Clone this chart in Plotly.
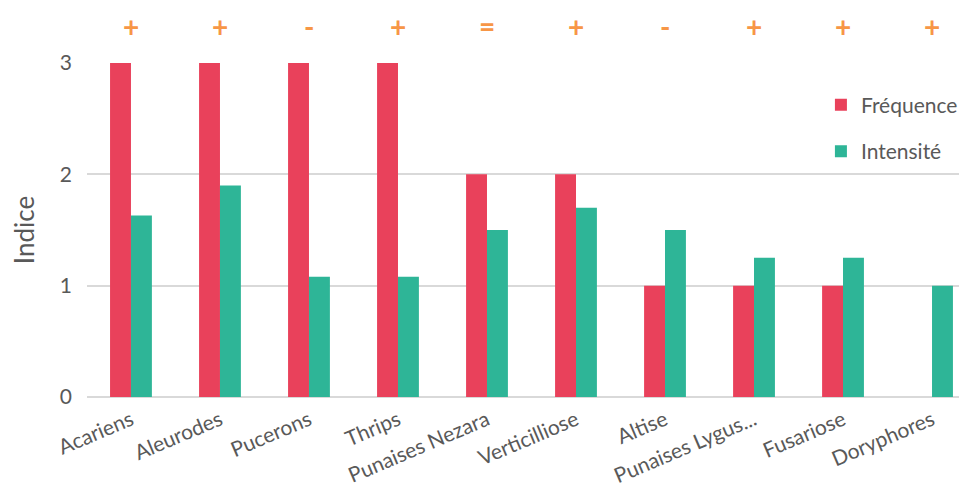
import plotly.graph_objects as go

categories = ["Acariens", "Aleurodes", "Pucerons", "Thrips", "Punaises Nezara",
              "Verticilliose", "Altise", "Punaises Lygus...", "Fusariose", "Doryphores"]
frequence = [3, 3, 3, 3, 2, 2, 1, 1, 1, None]
intensite = [1.63, 1.9, 1.08, 1.08, 1.5, 1.7, 1.5, 1.25, 1.25, 1.0]
tendances = ["+", "+", "-", "+", "=", "+", "-", "+", "+", "+"]
y_ticks = [0, 1, 2, 3]

RED = "#E9415B"
GREEN = "#2EB597"
ORANGE = "#F79646"
TXT = "#595959"
FONT = "Lato, 'Open Sans', sans-serif"

fig = go.Figure()
fig.add_trace(go.Bar(x=categories, y=frequence, name="Fréquence",
                     marker=dict(color=RED, line=dict(width=0)), legendgroup="a"))
fig.add_trace(go.Bar(x=categories, y=intensite, name="Intensité",
                     marker=dict(color=GREEN, line=dict(width=0)), legendgroup="b"))

for c, t in zip(categories, tendances):
    fig.add_annotation(x=c, y=1.1645, xref="x", yref="paper", text=f"<b>{t}</b>",
                       showarrow=False, font=dict(size=28, color=ORANGE, family=FONT),
                       yanchor="top", borderpad=0)

fig.update_layout(
    width=959, height=483,
    margin=dict(l=79, r=0, t=55, b=94),
    plot_bgcolor="white", paper_bgcolor="white",
    barmode="group", bargap=0.53, bargroupgap=0,
    font=dict(family=FONT, color=TXT, size=20),
    showlegend=True,
    legend=dict(x=0.834, y=0.935, xanchor="left", yanchor="top",
                font=dict(size=21, color=TXT, family=FONT),
                tracegroupgap=16, traceorder="grouped",
                bgcolor="rgba(0,0,0,0)"),
    xaxis=dict(tickangle=-23, tickfont=dict(size=21, color=TXT),
               range=[-0.494, 9.393], showgrid=False, showline=False,
               ticks="", ticklabelstandoff=6, fixedrange=True),
    yaxis=dict(range=[0, 3], tickvals=y_ticks, tickfont=dict(size=21, color=TXT),
               gridcolor="#D9D9D9", gridwidth=1.5, zeroline=True,
               zerolinecolor="#D9D9D9", zerolinewidth=1.5,
               title=dict(text="Indice", font=dict(size=26, color=TXT), standoff=20),
               ticks="", ticklen=0, ticklabelstandoff=14),
)

fig.write_html("out.html")
